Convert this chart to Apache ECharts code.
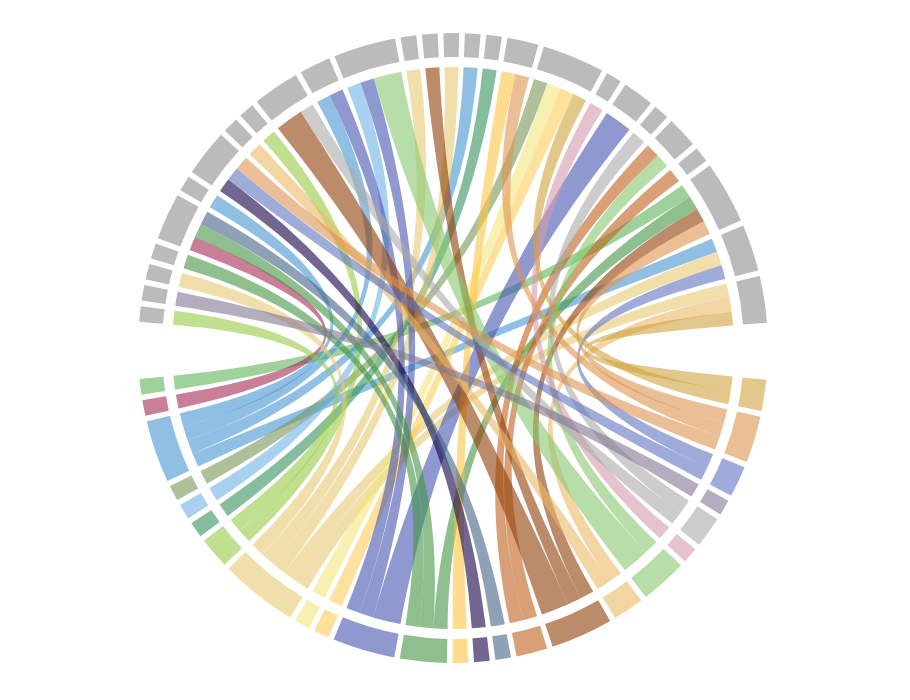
<!DOCTYPE html>
<html><head><meta charset="utf-8">
<style>html,body{margin:0;padding:0;background:#fff}#c{width:910px;height:700px}</style>
<script src="https://cdn.jsdelivr.net/npm/echarts@6/dist/echarts.min.js"></script>
</head><body><div id="c"></div>
<script>
// bottom (target) sectors, clockwise from the right-hand gap
const targetColors = [
 '#d0a33e','#de9450','#5f73be','#807691','#aaaaaa','#d599af','#87c86e','#ebb766',
 '#8f3e07','#c0611c','#446285','#140046','#fdc543','#449444','#4453af','#fccd5a',
 '#f2e67b','#e6ca73','#96cb44','#35915d','#6eb2e4','#789657','#4496d0','#a72a53','#5db457'];
const sourceCount = 27;
const sourceColor = '#bbbbbb';
const gapValue = 2.9;
// [source no., target no., value]
const links = [
 [27,18,1],[27,8,1],[27,1,1],
 [26,23,1],[26,18,1],[26,3,1],
 [25,25,1],[25,14,1],[25,9,1],[25,2,1],
 [24,10,1],
 [23,10,1],[23,7,1],
 [22,5,1],
 [21,15,2],
 [20,6,1],
 [19,22,1],[19,17,1],[19,16,1],[19,1,1],
 [18,13,1],[18,2,1],
 [17,20,1],
 [16,23,1],
 [15,18,1],
 [14,9,1],
 [13,18,1],
 [12,21,1],[12,15,1],[12,7,2],
 [11,23,1],[11,15,1],
 [10,9,2],[10,5,1],
 [9,19,1],
 [8,8,1],
 [7,12,1],[7,3,1],[7,2,1],
 [6,23,1],
 [5,24,1],[5,14,1],[5,11,1],
 [4,14,1],
 [3,18,1],
 [2,4,1],
 [1,19,1]
];

const nodes = [];
targetColors.forEach((c,i)=>nodes.push({name:'T'+(i+1),itemStyle:{color:c,opacity:0.6}}));
nodes.push({name:'gapW',value:gapValue,itemStyle:{color:'#fff',opacity:0}});
for(let i=1;i<=sourceCount;i++)nodes.push({name:'S'+i,itemStyle:{color:sourceColor,opacity:1}});
nodes.push({name:'gapE',value:gapValue,itemStyle:{color:'#fff',opacity:0}});

const edgeData = links.map(l=>({source:'S'+l[0],target:'T'+l[1],value:l[2],
  lineStyle:{color:'target',opacity:0.6}}));
const hiddenEdges = links.map(l=>({source:'S'+l[0],target:'T'+l[1],value:l[2],lineStyle:{opacity:0}}));

const base = {type:'chord',center:[453,348],startAngle:-5.8,clockwise:true,padAngle:1.04,minAngle:0,
  silent:true,animation:false,label:{show:false},emphasis:{disabled:true}};
const chart = echarts.init(document.getElementById('c'),null,{renderer:'canvas'});
chart.setOption({
  animation:false,
  series:[
    Object.assign({},base,{radius:[281,282],
      data:nodes.map(n=>({name:n.name,value:n.value,itemStyle:{color:n.itemStyle.color,opacity:0,borderRadius:0}})),
      links:edgeData,z:1}),
    Object.assign({},base,{radius:[291,315],
      data:nodes.map(n=>({name:n.name,value:n.value,itemStyle:Object.assign({borderRadius:0,borderWidth:0},n.itemStyle)})),
      links:hiddenEdges,z:2})
  ]
});
</script></body></html>
